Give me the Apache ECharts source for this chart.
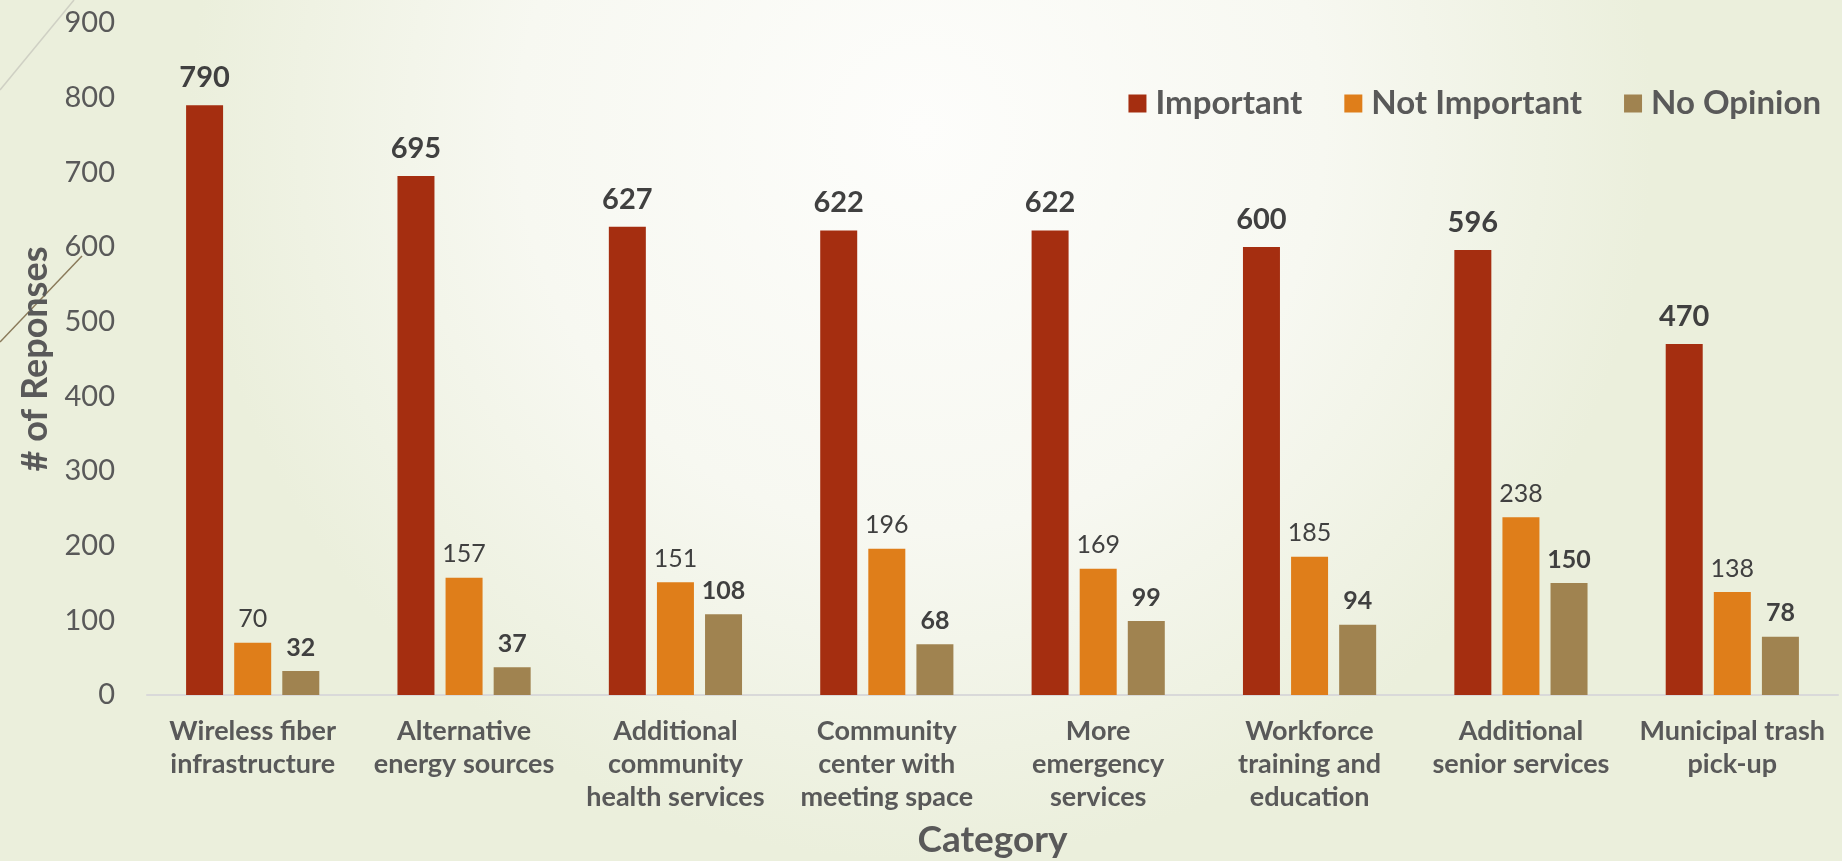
<!DOCTYPE html>
<html>
<head>
<meta charset="utf-8">
<script src="https://cdn.jsdelivr.net/npm/echarts@6/dist/echarts.min.js"></script>
<style>
html,body{margin:0;padding:0;width:1842px;height:861px;overflow:hidden;}
#c{width:1842px;height:861px;}
</style>
</head>
<body>
<div id="c"></div>
<script>
const categories = [
  "Wireless fiber\ninfrastructure",
  "Alternative\nenergy sources",
  "Additional\ncommunity\nhealth services",
  "Community\ncenter with\nmeeting space",
  "More\nemergency\nservices",
  "Workforce\ntraining and\neducation",
  "Additional\nsenior services",
  "Municipal trash\npick-up"
];
const important = [790, 695, 627, 622, 622, 600, 596, 470];
const notImportant = [70, 157, 151, 196, 169, 185, 238, 138];
const noOpinion = [32, 37, 108, 68, 99, 94, 150, 78];
const yTicks = { min: 0, max: 900, interval: 100 };

const FONT = 'Lato';
const chart = echarts.init(document.getElementById('c'), null, { renderer: 'canvas' });

function lbl(size, weight, dist) {
  return { show: true, position: 'top', distance: dist, color: '#404040',
           fontFamily: FONT, fontSize: size, fontWeight: weight };
}

chart.setOption({
  animation: false,
  backgroundColor: {
    type: 'radial', x: 0.5, y: 0.15, r: 0.85,
    colorStops: [
      { offset: 0, color: '#fdfdfb' },
      { offset: 0.55, color: '#f7f8f1' },
      { offset: 1, color: '#ebefdc' }
    ]
  },
  graphic: [
    { type: 'line', shape: { x1: 0, y1: 90, x2: 74, y2: 0 },
      style: { stroke: '#cfd0c4', lineWidth: 1.5 }, silent: true },
    { type: 'line', shape: { x1: 0, y1: 342, x2: 82, y2: 256 },
      style: { stroke: '#8a7a5a', lineWidth: 1.5 }, silent: true }
  ],
  legend: {
    data: ['Important', 'Not Important', 'No Opinion'],
    right: 16, top: 82,
    itemWidth: 18, itemHeight: 18, itemGap: 42,
    icon: 'rect',
    textStyle: { fontFamily: FONT, fontSize: 33, fontWeight: 'bold', color: '#595959', padding: [0,0,0,4] }
  },
  grid: { left: 147, right: 4, top: 23, bottom: 166, containLabel: false, outerBoundsMode: 'none' },
  xAxis: {
    type: 'category', data: categories,
    name: 'Category', nameLocation: 'middle', nameGap: 127,
    nameTextStyle: { fontFamily: FONT, fontSize: 37, fontWeight: 'bold', color: '#595959' },
    axisLine: { lineStyle: { color: '#d9d9d9', width: 2 } },
    axisTick: { show: false },
    axisLabel: { interval: 0, margin: 20, fontFamily: FONT, fontSize: 27, fontWeight: 'bold',
                 color: '#595959', lineHeight: 33 }
  },
  yAxis: {
    type: 'value', min: yTicks.min, max: yTicks.max, interval: yTicks.interval,
    name: '# of Reponses', nameLocation: 'middle', nameGap: 94, nameRotate: 90,
    nameTextStyle: { fontFamily: FONT, fontSize: 36, fontWeight: 'bold', color: '#595959' },
    axisLine: { show: false }, axisTick: { show: false },
    splitLine: { show: false },
    axisLabel: { margin: 32, fontFamily: FONT, fontSize: 29, color: '#595959' }
  },
  series: [
    { name: 'Important', type: 'bar', data: important, barWidth: 37, barGap: '30%',
      itemStyle: { color: '#a52e10' }, label: lbl(29, 'bold', 13) },
    { name: 'Not Important', type: 'bar', data: notImportant, barWidth: 37, barGap: '30%',
      itemStyle: { color: '#df7e1a' }, label: lbl(25, 'normal', 11) },
    { name: 'No Opinion', type: 'bar', data: noOpinion, barWidth: 37, barGap: '30%',
      itemStyle: { color: '#a08350' }, label: lbl(25, 'bold', 11) }
  ]
});
</script>
</body>
</html>
